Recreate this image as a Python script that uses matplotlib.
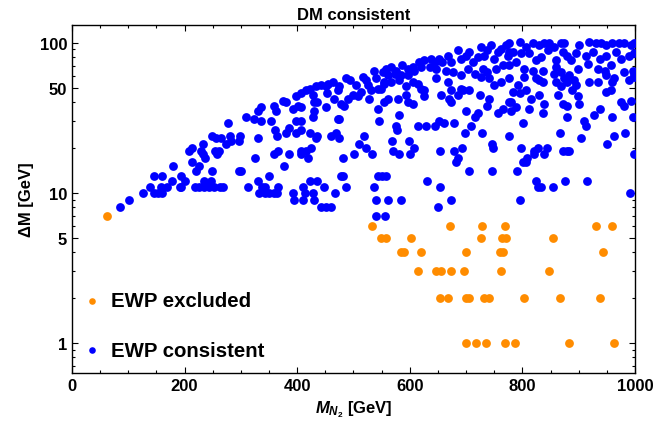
import matplotlib
matplotlib.use("Agg")
import matplotlib.pyplot as plt
from matplotlib.ticker import FixedLocator, NullFormatter, LogLocator, MultipleLocator
import numpy as np

plt.rcParams['font.family'] = ['Liberation Sans', 'DejaVu Sans']
plt.rcParams['font.weight'] = 'bold'
plt.rcParams['mathtext.fontset'] = 'custom'
plt.rcParams['mathtext.it'] = 'Liberation Sans:italic:bold'
plt.rcParams['mathtext.rm'] = 'Liberation Sans:bold'
plt.rcParams['mathtext.bf'] = 'Liberation Sans:bold'

# EWP excluded (orange)
excl_x = [62, 532, 672, 728, 769, 931, 960,
          549, 557, 603, 726, 764, 770, 855,
          584, 590, 620, 700, 760, 766, 944,
          615, 647, 655, 673, 696, 762, 848,
          654, 668, 699, 706, 731, 741, 803, 867, 938,
          700, 718, 736, 769, 786, 883, 962]
excl_y = [7, 6, 6, 6, 6, 6, 6,
          5, 5, 5, 5, 5, 5, 5,
          4, 4, 4, 4, 4, 4, 4,
          3, 3, 3, 3, 3, 3, 3,
          2, 2, 2, 2, 2, 2, 2, 2, 2,
          1, 1, 1, 1, 1, 1, 1]

# EWP consistent (blue): (M_N2, Delta M)
cons = [
# low-mass region
(86,8),(102,9),(126,10),(138,11),(145,10),(152,10),(159,10),(146,13),(160,13),(158,11),(168,11),(177,12),(180,15),
(191,11),(194,11),(194,13),(201,12),(208,19),(214,20),(213,16),(220,14),(226,15),(218,11),(226,11),(235,11),(244,11),
(253,11),(262,11),(269,11),(235,12),(247,12),(229,19),(232,18),(233,21),(237,17),(249,14),(249,24),(256,23),(265,23),
(254,19),(261,19),(257,18),(273,21),(277,29),(280,24),(282,22),(296,14),(298,24),(297,22),(309,32),(300,14),(313,11),
# 320-560, small splittings
(325,17),(359,18),(366,19),(377,15),(386,18),(407,19),(416,19),(425,20),(407,18),(419,17),(481,17),(350,13),(331,12),
(337,11),(343,11),(333,10),(342,10),(350,10),(359,10),(366,11),(364,10),(392,10),(395,9),(410,9),(413,10),(410,11),
(422,12),(428,10),(430,9),(435,12),(448,11),(468,10),(442,8),(451,8),(460,8),(478,13),(487,11),(481,13),(501,18),
(532,18),(536,11),(543,13),(550,13),(558,13),(540,9),(540,7),(556,7),(510,21),(522,20),
# 320-560, upper band
(324,31),(330,35),(336,37),(336,30),(354,30),(359,38),(362,35),(374,41),(380,40),(361,26),(365,24),(380,25),(386,27),
(398,25),(407,26),(398,30),(407,30),(428,32),(422,25),(436,24),(433,23),(460,24),(469,25),(475,23),(330,23),(392,36),
(401,38),(407,37),(398,44),(407,46),(416,48),(422,49),(428,45),(430,40),(436,40),(430,35),(433,51),(442,52),(451,51),
(454,53),(463,55),(453,46),(451,37),(466,42),(472,48),(475,51),(478,39),(484,38),(475,31),(487,58),(493,56),(490,42),
(499,45),(504,52),(508,44),(513,47),(516,59),(522,56),(525,52),(531,48),(528,42),(537,65),(540,58),(543,49),(552,64),
(555,55),(554,40),(543,36),(546,30),(519,24),(472,31),
# 560-1000, small splittings
(561,9),(584,9),(650,8),(673,9),(796,9),(992,10),(630,12),(654,11),(706,14),(746,14),(790,14),(824,12),(827,11),
(833,11),(855,11),(876,12),(914,12),(999,18),(568,22),(571,19),(581,18),(600,18),(599,22),(607,20),(577,26),(653,19),
(679,19),(686,17),(682,16),(693,20),(698,25),(728,25),(746,21),(747,20),(776,24),(798,20),(801,16),(806,16),(809,17),
(820,19),(820,18),(827,20),(839,18),(843,20),(866,25),(873,19),(880,19),(883,19),(904,23),(950,21),(962,24),(982,25),
# 550-780 upper band
(558,67),(567,69),(576,65),(587,71),(596,67),(605,69),(617,74),(626,76),(638,78),(644,74),(652,78),(658,74),(667,82),
(673,74),(685,89),(691,78),(700,82),(706,87),(712,74),(721,80),(727,94),(732,82),(738,89),(744,96),(750,78),(756,87),
(762,91),(771,96),(777,87),
(561,61),(573,62),(584,61),(596,61),(608,65),(620,69),(635,69),(647,67),(664,65),(676,64),(691,61),(703,67),(715,62),
(730,67),(738,64),(753,67),(765,71),(777,71),(549,49),(555,53),(567,55),(581,56),(593,51),(605,55),(614,53),(620,49),
(626,48),(647,58),(667,55),(673,48),(691,49),(706,48),(727,59),(741,58),(750,52),(762,55),(777,58),
(561,42),(579,42),(593,45),(596,40),(605,39),(626,44),(655,45),(670,42),(673,40),(685,45),(694,48),(724,45),(741,42),
(738,38),(700,35),(715,32),(721,34),(756,34),(765,36),(777,40),(581,33),(576,28),(614,28),(629,28),(644,28),(652,30),
(661,29),(679,29),(709,28),(780,35),
# 770-1000 upper band
(777,99),(795,101),(806,94),(818,100),(830,96),(839,99),(848,99),(857,94),(869,100),(874,99),(901,96),(919,101),
(931,99),(940,100),(949,96),(960,99),(972,100),(981,99),(993,96),(998,99),
(774,82),(783,87),(798,85),(812,85),(824,76),(833,80),(845,89),(860,76),(872,87),(880,82),(886,76),(895,85),(913,82),
(925,87),(937,78),(949,82),(966,87),(975,78),(990,82),(999,85),
(789,74),(803,67),(818,65),(836,65),(830,56),(860,69),(857,62),(869,64),(874,58),(883,61),(892,56),(898,67),(916,72),
(934,67),(946,65),(957,71),(963,58),(981,64),(996,65),(999,61),(792,52),(803,59),(824,58),(836,55),(860,55),(880,55),
(895,52),(919,55),(934,55),(949,61),(960,55),(990,56),(999,59),
(783,47),(795,46),(806,48),(815,42),(830,45),(839,39),(780,40),(789,37),(812,36),(836,34),(863,45),(869,51),(872,39),
(880,38),(889,48),(898,44),(901,39),(937,36),(949,47),(957,48),(928,33),(910,30),(913,28),(880,32),(975,40),(981,38),
(993,41),(996,32),(959,32),(801,29)]
cons_x = [p[0] for p in cons]
cons_y = [p[1] for p in cons]

y_ticks = [1, 5, 10, 50, 100]
x_ticks = [0, 200, 400, 600, 800, 1000]

fig = plt.figure(figsize=(6.57, 4.31), dpi=100)
ax = fig.add_axes([0.1096, 0.1323, 0.8569, 0.8074])

ax.scatter(cons_x, cons_y, s=40, color='#0000ff', linewidths=0, label='EWP consistent', zorder=3)
ax.scatter(excl_x, excl_y, s=40, color='#ff8c00', linewidths=0, label='EWP excluded', zorder=3)

ax.set_yscale('log')
ax.set_xlim(0, 1000)
ax.set_ylim(0.63, 131)
ax.yaxis.set_major_locator(FixedLocator(y_ticks))
ax.set_yticklabels([str(t) for t in y_ticks])
ax.yaxis.set_minor_locator(LogLocator(base=10, subs=np.arange(1, 10)))
ax.yaxis.set_minor_formatter(NullFormatter())
ax.xaxis.set_major_locator(FixedLocator(x_ticks))
ax.xaxis.set_minor_locator(MultipleLocator(50))

ax.tick_params(which='both', direction='in', top=True, right=True, labelsize=12, width=0.8)
ax.tick_params(which='major', length=4.5)
ax.tick_params(which='minor', length=2.5)
for sp in ax.spines.values():
    sp.set_linewidth(1.0)

ax.set_title('DM consistent', fontsize=12, fontweight='bold', pad=4)
ax.set_xlabel(r'$M_{N_2}$ [GeV]', fontsize=12, fontweight='bold')
ax.set_ylabel(r'ΔM [GeV]', fontsize=12, fontweight='bold')

h, l = ax.get_legend_handles_labels()
leg = ax.legend(h[::-1], l[::-1], loc='lower left', bbox_to_anchor=(0.0, 0.015), frameon=False,
                prop={'size': 14.7, 'weight': 'bold'}, markerscale=0.75, labelspacing=1.5,
                handletextpad=0.3, handlelength=1.2, borderaxespad=0.0)

fig.savefig('out.png', dpi=100)
